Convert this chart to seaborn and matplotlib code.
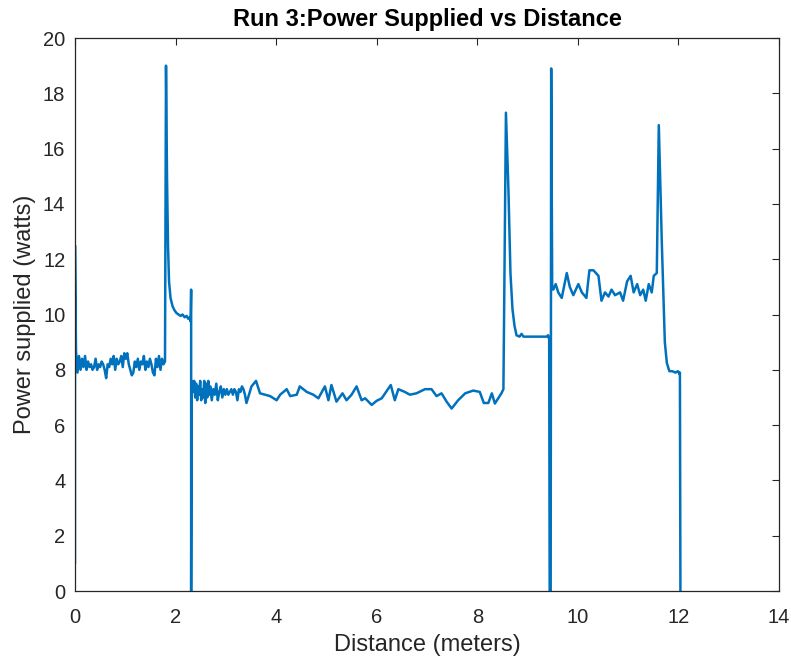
import numpy as np
import pandas as pd
import matplotlib
matplotlib.use('Agg')
import matplotlib.pyplot as plt
import seaborn as sns

# Leituras do grafico, por trecho (distancia em metros, potencia em watts)
dist_inicio = [0.00, 0.00, 0.02, 0.05, 0.08, 0.11, 0.14, 0.17, 0.20, 0.23, 0.26, 0.29,
               0.32, 0.35, 0.38, 0.41, 0.44, 0.47, 0.50, 0.53, 0.56, 0.59, 0.62, 0.65,
               0.68, 0.71, 0.74, 0.77, 0.80, 0.83, 0.86, 0.89, 0.92, 0.95, 0.98, 1.01,
               1.04, 1.07, 1.10, 1.13, 1.16, 1.19, 1.22, 1.25, 1.28, 1.31, 1.34, 1.37,
               1.40, 1.43, 1.46, 1.49, 1.52, 1.55, 1.58, 1.61, 1.64, 1.67, 1.70, 1.73,
               1.76, 1.79]
pot_inicio = [1.0, 12.5, 8.7, 7.9, 8.5, 8.0, 8.4, 8.1, 8.5, 8.0, 8.3, 8.1,
              8.2, 8.0, 8.1, 8.4, 8.0, 8.2, 8.1, 8.3, 8.2, 8.0, 7.7, 8.2,
              8.1, 8.4, 8.2, 8.5, 8.0, 8.4, 8.2, 8.3, 8.5, 8.1, 8.6, 8.4,
              8.6, 8.2, 8.0, 7.8, 7.9, 8.3, 8.1, 8.4, 8.0, 8.3, 8.2, 8.5,
              8.0, 8.3, 8.1, 8.4, 8.2, 7.9, 7.8, 8.4, 8.1, 8.5, 8.0, 8.4,
              8.2, 8.3]

dist_pico1 = [1.81, 1.83, 1.85, 1.87, 1.90, 1.94, 1.98, 2.02, 2.06, 2.10, 2.14, 2.18,
              2.22, 2.25, 2.28, 2.30, 2.31, 2.31, 2.32]
pot_pico1 = [19.0, 15.0, 12.5, 11.2, 10.6, 10.3, 10.15, 10.05, 10.0, 9.95, 10.0, 9.9,
             9.95, 9.85, 9.9, 9.75, 10.9, 0.0, 7.6]

dist_meio = [2.35, 2.37, 2.39, 2.41, 2.43, 2.45, 2.47, 2.49, 2.51, 2.53, 2.55, 2.57,
             2.59, 2.61, 2.63, 2.65, 2.67, 2.69, 2.72, 2.75, 2.78, 2.81, 2.84, 2.87,
             2.90, 2.93, 2.96, 2.99, 3.02, 3.05, 3.08, 3.11, 3.14, 3.17, 3.20, 3.23,
             3.26, 3.29, 3.32, 3.35, 3.38, 3.41, 3.51, 3.60, 3.68, 3.78, 3.88, 4.01,
             4.08, 4.21, 4.28, 4.41, 4.47, 4.61, 4.74, 4.84, 4.97, 5.04, 5.10, 5.20,
             5.32, 5.40, 5.50, 5.60, 5.70, 5.77, 5.90, 6.00, 6.10, 6.28, 6.36, 6.43,
             6.56, 6.66, 6.79, 6.96, 7.09, 7.19, 7.29, 7.39, 7.49, 7.62, 7.76, 7.92,
             8.05, 8.13, 8.22, 8.29, 8.35, 8.48, 8.52]
pot_meio = [7.2, 7.6, 7.0, 7.5, 6.9, 7.4, 7.1, 7.6, 6.9, 7.3, 7.0, 7.6,
            6.8, 7.5, 7.0, 7.6, 7.1, 7.4, 6.9, 7.3, 7.1, 7.5, 6.9, 7.2,
            7.4, 7.0, 7.3, 7.1, 7.3, 7.1, 7.2, 7.3, 7.1, 7.3, 7.2, 6.9,
            7.3, 7.2, 7.4, 7.3, 7.1, 6.8, 7.4, 7.6, 7.15, 7.1, 7.05, 6.9,
            7.1, 7.3, 7.05, 7.1, 7.4, 7.2, 7.1, 6.97, 7.4, 6.9, 7.45, 6.85,
            7.15, 6.9, 7.1, 7.4, 6.9, 6.97, 6.73, 6.88, 6.97, 7.45, 6.9, 7.3,
            7.2, 7.1, 7.15, 7.3, 7.3, 7.05, 7.15, 6.85, 6.6, 6.9, 7.15, 7.25,
            7.2, 6.8, 6.8, 7.15, 6.78, 7.15, 7.3]

dist_pico2 = [8.57, 8.62, 8.66, 8.70, 8.74, 8.78, 8.84, 8.88, 8.92, 9.00, 9.10, 9.20,
              9.30, 9.38, 9.41, 9.43, 9.44, 9.46, 9.47, 9.49]
pot_pico2 = [17.3, 14.5, 11.5, 10.2, 9.6, 9.25, 9.2, 9.3, 9.2, 9.2, 9.2, 9.2,
             9.2, 9.2, 9.25, 9.1, 0.0, 0.0, 18.9, 11.0]

dist_fim = [9.51, 9.56, 9.61, 9.68, 9.78, 9.84, 9.91, 10.01, 10.08, 10.17, 10.23, 10.31,
            10.41, 10.47, 10.54, 10.61, 10.67, 10.74, 10.84, 10.90, 10.98, 11.05, 11.11, 11.18,
            11.24, 11.30, 11.35, 11.41, 11.47, 11.51, 11.57, 11.61, 11.67, 11.73, 11.77, 11.82,
            11.88, 11.94, 11.99, 12.02, 12.03, 12.04]
pot_fim = [10.9, 11.1, 10.8, 10.6, 11.5, 11.0, 10.7, 11.1, 10.8, 10.6, 11.6, 11.6,
           11.4, 10.5, 10.8, 10.65, 10.9, 10.7, 10.8, 10.5, 11.2, 11.4, 10.8, 11.1,
           10.7, 10.9, 10.5, 11.1, 10.8, 11.4, 11.5, 16.85, 12.6, 9.0, 8.25, 7.95,
           7.95, 7.9, 7.95, 7.85, 7.9, 0.0]

distancia = dist_inicio + dist_pico1 + dist_meio + dist_pico2 + dist_fim
potencia = pot_inicio + pot_pico1 + pot_meio + pot_pico2 + pot_fim
dados = pd.DataFrame({'distancia': distancia, 'potencia': potencia})

sns.set_style('white')
plt.rcParams['font.family'] = ['Liberation Sans', 'DejaVu Sans']

fig = plt.figure(figsize=(7.91, 6.58), dpi=100)
ax = fig.add_axes([0.0948, 0.1018, 0.89, 0.8404])

sns.lineplot(data=dados, x='distancia', y='potencia', sort=False, estimator=None,
             color='#0072BD', linewidth=1.8, ax=ax)

ax.set_xlim(0, 14)
ax.set_ylim(0, 20)
ax.set_xticks(np.arange(0, 15, 2))
ax.set_yticks(np.arange(0, 21, 2))
ax.tick_params(direction='in', length=5, width=0.8, colors='#262626',
               labelsize=14.5, top=True, right=True)
ax.tick_params(axis='x', pad=12)
ax.tick_params(axis='y', pad=7)
for s in ax.spines.values():
    s.set_color('#262626')
    s.set_linewidth(0.9)

ax.set_xlabel('Distance (meters)', fontsize=17, color='#262626', labelpad=5)
ax.set_ylabel('Power supplied (watts)', fontsize=17, color='#262626', labelpad=5)
ax.set_title('Run 3:Power Supplied vs Distance', fontsize=17, fontweight='bold',
             color='black', pad=9)

fig.savefig('out.png', dpi=100)
